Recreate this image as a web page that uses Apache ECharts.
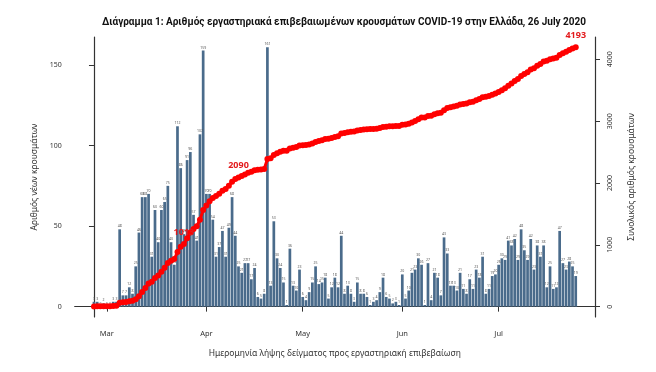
<!DOCTYPE html>
<html><head><meta charset="utf-8">
<script src="https://cdn.jsdelivr.net/npm/echarts@6/dist/echarts.min.js"></script>
<style>html,body{margin:0;padding:0;background:#fff}#c{width:656px;height:372px}</style>
</head><body><div id="c"></div>
<script>
// Daily new confirmed cases by sampling date (Feb 26 – Jul 25, 2020)
const febCases = [3,3,0,2];
const marCases = [0,0,3,3,48,7,7,12,8,25,46,68,68,70,31,60,40,60,65,75,40,26,112,86,45,91,96,57,41,107,159];
const aprCases = [70,70,54,31,37,47,31,49,68,44,25,21,27,27,17,24,6,5,8,161,13,53,30,24,15,1,36,13,10,23];
const mayCases = [6,4,9,15,25,14,15,18,5,12,18,12,44,8,13,8,3,15,8,8,6,1,3,4,9,18,6,5,2,3,1];
const junCases = [20,5,10,21,23,30,26,1,27,4,21,18,7,43,33,13,13,10,21,11,8,17,11,23,18,31,8,11,19,20];
const julCases = [26,30,29,41,38,42,29,48,35,29,42,23,38,31,38,12,25,11,12,47,27,23,28,25,19];

const monthLabels = ["Mar","Apr","May","Jun","Jul"];
const leftTicks = [0,50,100,150];
const rightTicks = [0,1000,2000,3000,4000];
// days (index from Feb 26) whose cumulative total is annotated
const labeledDays = [28, 45, 150];

const months = [febCases, marCases, aprCases, mayCases, junCases, julCases];
const daily = [].concat(...months);
const monthStart = [];
{ let acc = 0; months.forEach((m, i) => { if (i > 0) monthStart.push(acc); acc += m.length; }); }
const cumulative = [];
daily.reduce((s, v, i) => { cumulative[i] = s + v; return s + v; }, 0);

const chart = echarts.init(document.getElementById('c'), null, {renderer: 'canvas'});
const axisCol = '#333';
const font = 'Noto Sans';
chart.setOption({
  animation: false,
  backgroundColor: '#fff',
  title: {
    text: 'Διάγραμμα 1: Αριθμός εργαστηριακά επιβεβαιωμένων κρουσμάτων COVID-19 στην Ελλάδα, 26 July 2020',
    left: 339, top: 12, textAlign: 'center',
    textStyle: {fontFamily: 'Roboto', fontWeight: 'bold', fontSize: 10, color: '#111'}
  },
  grid: {left: 74.7, right: 61, top: 37, bottom: 55},
  xAxis: {
    type: 'value', min: -6, max: 156,
    splitLine: {show: false},
    axisLine: {show: true, lineStyle: {color: axisCol, width: 1.2}},
    axisTick: {show: true, customValues: monthStart, length: 5, lineStyle: {color: axisCol}},
    axisLabel: {customValues: monthStart, formatter: v => monthLabels[monthStart.indexOf(v)] || '',
      fontFamily: font, fontSize: 7.5, color: '#333', margin: 13},
    name: 'Ημερομηνία λήψης δείγματος προς εργαστηριακή επιβεβαίωση',
    nameLocation: 'middle', nameGap: 32,
    nameTextStyle: {fontFamily: font, fontSize: 8.5, color: '#333'}
  },
  yAxis: [{
    type: 'value', min: -6.44, max: 167.44,
    splitLine: {show: false},
    axisLine: {show: true, lineStyle: {color: axisCol, width: 1.2}},
    axisTick: {show: true, customValues: leftTicks, length: 5, lineStyle: {color: axisCol}},
    axisLabel: {customValues: leftTicks, fontFamily: font, fontSize: 7, color: '#333', margin: 13},
    name: 'Αριθμός νέων κρουσμάτων', nameLocation: 'middle', nameGap: 33, nameRotate: 90,
    nameTextStyle: {fontFamily: font, fontSize: 8.5, color: '#333'}
  }, {
    type: 'value', position: 'right', min: -167.7, max: 4360.7,
    splitLine: {show: false},
    axisLine: {show: true, lineStyle: {color: axisCol, width: 1.2}},
    axisTick: {show: true, customValues: rightTicks, length: 5, lineStyle: {color: axisCol}},
    axisLabel: {customValues: rightTicks, rotate: 90, formatter: v => String(v),
      fontFamily: font, fontSize: 7, color: '#333', margin: 11},
    name: 'Συνολικός αριθμός κρουσμάτων', nameLocation: 'middle', nameGap: 32, nameRotate: 90,
    nameTextStyle: {fontFamily: font, fontSize: 8.5, color: '#333'}
  }],
  series: [{
    type: 'bar',
    data: daily.map((v, i) => [i, v]),
    barWidth: 2.7,
    itemStyle: {color: '#4a6b8b'},
    label: {show: true, position: 'top', distance: 1, fontSize: 3.5, color: '#555', fontFamily: font,
      formatter: p => p.value[1]}
  }, {
    type: 'line', yAxisIndex: 1,
    data: cumulative.map((v, i) => labeledDays.includes(i)
      ? {value: [i, v], label: {show: true, position: 'top', distance: 4, formatter: String(v),
          fontFamily: font, fontWeight: 'bold', fontSize: 9, color: '#e31a1c'}}
      : [i, v]),
    symbol: 'circle', symbolSize: 6, showAllSymbol: true,
    itemStyle: {color: '#ff0000'},
    lineStyle: {color: '#ff0000', width: 3},
    z: 5
  }]
});
</script></body></html>
